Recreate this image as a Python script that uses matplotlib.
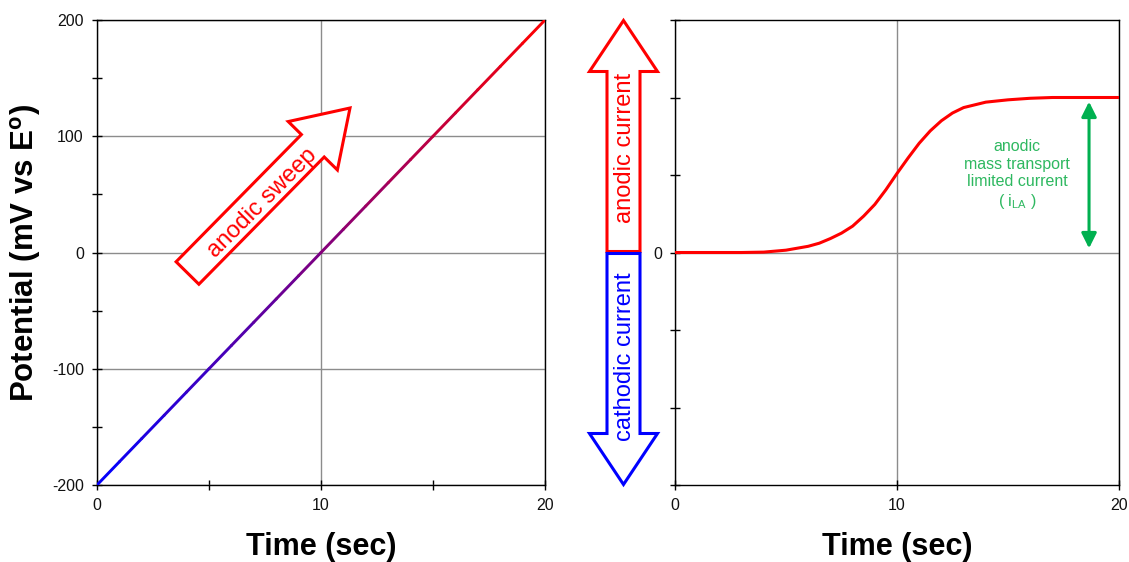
import numpy as np
import matplotlib
matplotlib.use("Agg")
import matplotlib.pyplot as plt
from matplotlib.collections import LineCollection
from matplotlib.patches import FancyArrow
from matplotlib.colors import to_rgb

plt.rcParams['font.family'] = ['Liberation Sans', 'DejaVu Sans']
plt.rcParams['mathtext.fontset'] = 'custom'
plt.rcParams['mathtext.rm'] = 'Liberation Sans'
plt.rcParams['mathtext.bf'] = 'Liberation Sans:bold'
plt.rcParams['axes.unicode_minus'] = False

# left panel: linear potential sweep
sweep_t = [0, 1, 2, 3, 4, 5, 6, 7, 8, 9, 10, 11, 12, 13, 14, 15, 16, 17, 18, 19, 20]
sweep_mv = [-200, -180, -160, -140, -120, -100, -80, -60, -40, -20, 0,
            20, 40, 60, 80, 100, 120, 140, 160, 180, 200]

# right panel: current response
cur_t = [0, 1, 2, 3, 4, 5, 6, 6.5, 7, 7.5, 8, 8.5, 9, 9.5, 10, 10.5, 11, 11.5,
         12, 12.5, 13, 14, 15, 16, 17, 18, 19, 20]
cur_i = [0, 0, 0, 0, 0.005, 0.03, 0.08, 0.12, 0.18, 0.25, 0.34, 0.47, 0.62, 0.81,
         1.02, 1.22, 1.41, 1.57, 1.70, 1.80, 1.87, 1.94, 1.97, 1.99, 2.0, 2.0, 2.0, 2.0]

W, H = 1129, 562
fig = plt.figure(figsize=(W / 100, H / 100), dpi=100)

ax1 = fig.add_axes([97 / W, 1 - 485 / H, 448 / W, 465 / H])
ax2 = fig.add_axes([675 / W, 1 - 485 / H, 444 / W, 465 / H])

grid_c = '#8c8c8c'
tick_c = '#111111'

# ---- left axes
pts = np.column_stack([sweep_t, sweep_mv])
segs = np.stack([pts[:-1], pts[1:]], axis=1)
mid = (np.array(sweep_mv[:-1]) + np.array(sweep_mv[1:])) / 2
frac = (mid + 200) / 400
blue, red = np.array(to_rgb('#0000ff')), np.array(to_rgb('#ff0000'))
cols = [tuple(blue * (1 - f) + red * f) for f in frac]
lc = LineCollection(segs, colors=cols, linewidths=2.1, capstyle='round', zorder=3)
ax1.add_collection(lc)

ax1.set_xlim(0, 20)
ax1.set_ylim(-200, 200)
ax1.set_xticks([0, 10, 20])
ax1.set_xticks([5, 15], minor=True)
ax1.set_yticks([-200, -100, 0, 100, 200])
ax1.set_yticks([-150, -50, 50, 150], minor=True)
ax1.grid(True, which='major', color=grid_c, lw=1)
ax1.set_axisbelow(True)

# ---- right axes
ax2.plot(cur_t, cur_i, color='#ff0000', lw=2.2, zorder=3)
ax2.set_xlim(0, 20)
ax2.set_ylim(-3, 3)
ax2.set_xticks([0, 10, 20])
ax2.set_yticks([0])
ax2.set_yticks([-3, -2, -1, 1, 2, 3], minor=True)
ax2.grid(True, which='major', color=grid_c, lw=1)
ax2.set_axisbelow(True)

for ax in (ax1, ax2):
    for s in ax.spines.values():
        s.set_color('black')
        s.set_linewidth(1)
    ax.tick_params(which='both', direction='inout', length=7, width=1,
                   color='black', labelsize=11.5, labelcolor=tick_c, pad=6)
    ax.set_xlabel('Time (sec)', fontsize=22, fontweight='bold')
    ax.xaxis.set_label_coords(0.5, (485 - 547) / 465)
    ax.xaxis.label.set_va('center')

ax1.set_ylabel(r'Potential (mV vs E$^{\mathbf{o}}$)', fontsize=22.5, fontweight='bold')
ax1.yaxis.set_label_coords((26 - 97) / 448, 0.5)
ax1.yaxis.label.set_va('center')

# limiting current annotation
green = '#00b050'
ax2.annotate('', xy=(18.65, 2), xytext=(18.65, 0),
             arrowprops=dict(arrowstyle='<|-|>,head_length=0.9,head_width=0.45',
                             color=green, lw=2.2, shrinkA=3, shrinkB=3))
ax2.text(15.4, 1.0, 'anodic\nmass transport\nlimited current\n( i$_{\\rm LA}$ )',
         ha='center', va='center', multialignment='center', fontsize=11.5,
         color='#2eb860', linespacing=1.2)

# ---- overlay for block arrows (pixel units)
ov = fig.add_axes([0, 0, 1, 1])
ov.set_xlim(0, W)
ov.set_ylim(H, 0)
ov.axis('off')
ov.patch.set_alpha(0)

ov.add_patch(FancyArrow(187.5, 273, 162.5, -165, width=32, head_width=69, head_length=53,
                        length_includes_head=True, fc='white', ec='#ff0000', lw=2.2,
                        joinstyle='miter'))
ov.text(262, 203, 'anodic sweep', rotation=45, rotation_mode='anchor',
        ha='center', va='center', fontsize=17, color='#ff0000')

ov.add_patch(FancyArrow(623.5, 251.5, 0, -231, width=33, head_width=68, head_length=51,
                        length_includes_head=True, fc='white', ec='#ff0000', lw=2.2,
                        joinstyle='miter'))
ov.add_patch(FancyArrow(623.5, 253.5, 0, 231, width=33, head_width=68, head_length=51,
                        length_includes_head=True, fc='white', ec='#0000ff', lw=2.2,
                        joinstyle='miter'))
ov.text(625, 148, 'anodic current', rotation=90, ha='center', va='center',
        fontsize=17, color='#ff0000')
ov.text(625, 357, 'cathodic current', rotation=90, ha='center', va='center',
        fontsize=17, color='#0000ff')

fig.savefig('out.png', dpi=100)
